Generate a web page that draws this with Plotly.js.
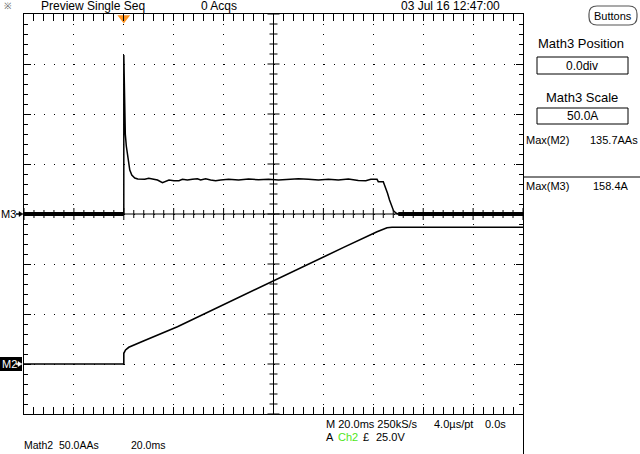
<!DOCTYPE html>
<html>
<head>
<meta charset="utf-8">
<script src="https://cdn.plot.ly/plotly-3.0.1.min.js"></script>
<style>html,body{margin:0;padding:0;background:#fff;}#chart{width:640px;height:454px;}</style>
</head>
<body>
<div id="chart"></div>
<script>
// ---- Data (time in ms, trigger at 0) ----
const m3Time = [-40, 0, 0, 0.2, 0.6, 1.0, 1.6, 2.4, 3.2, 4.4, 5.6, 7.2, 8.4, 10, 11.5, 13.5, 15.5, 16.8, 18.1, 20.1, 22.1, 23.5, 25.5, 27.5, 29.5, 30.8, 32.8, 34.8, 36.8, 38.8, 42, 46, 50, 54, 58, 62, 66, 70, 74, 78, 82, 86, 90, 94, 97, 99, 101.5, 102, 104, 104.8, 105.7, 106.5, 107.5, 108.1, 109.2, 110, 160];
const m3Amps = [0, 0, 159, 108, 80, 68, 56, 44, 39, 36, 35, 34.7, 34.7, 35.7, 34.7, 34, 31.3, 32.7, 34, 33.3, 33.3, 34.7, 34, 34.7, 35.3, 34, 35.3, 34, 33.3, 34, 34.7, 34, 35, 34.3, 34.7, 34, 34.7, 35.3, 34.7, 34, 34.7, 34, 35, 33.5, 33.3, 34.7, 34.7, 32.3, 32.3, 27.3, 20.7, 14, 7.3, 3.3, 0.7, 0, 0];
const m2Time = [-40, 0, 0, 0.7, 2, 4, 8.1, 21.5, 34.8, 48.1, 60, 74.8, 88.1, 101.5, 104, 105.5, 107.5, 160];
const m2Val  = [0, 0, 10.7, 14, 16.7, 19, 23.3, 37.3, 53.3, 68.9, 83.2, 100.6, 116.6, 132.3, 134.5, 136.3, 136.7, 136.7];
const triggerTime = [0];

const xRange = [-40, 160];   // 20 ms/div
const m3Range = [-200, 200]; // 50 A/div, position 0 div
const m2Range = [-50, 350];  // 50 AAs/div

const F = '"Liberation Sans", Arial, sans-serif';
const L = 24, T = 14, PW = 499, PH = 400;
const px = x => (x - L) / PW;
const py = y => (T + PH - y) / PH;

// zero-level segments of M3 (drawn heavier, as on the scope)
const zT = [], zA = [];
m3Amps.forEach((a, i) => {
  if (a === 0) { zT.push(m3Time[i]); zA.push(0); }
  else if (zT.length && zT[zT.length - 1] !== null) { zT.push(null); zA.push(null); }
});

const traces = [
  {x: m2Time, y: m2Val, yaxis: 'y2', mode: 'lines', line: {color: '#000', width: 1.6}, hoverinfo: 'skip'},
  {x: m3Time, y: m3Amps, mode: 'lines', line: {color: '#000', width: 1.5}, hoverinfo: 'skip'},
  {x: zT, y: zA, mode: 'lines', line: {color: '#000', width: 4}, hoverinfo: 'skip'},
  {x: triggerTime, y: [196], mode: 'markers', cliponaxis: false,
   marker: {symbol: 'triangle-down', size: 11, color: '#ff9420', line: {width: 0}}, hoverinfo: 'skip'}
];

// graticule centre cross and ticks
const shapes = [];
shapes.push({type: 'line', xref: 'x', yref: 'y', x0: 60, x1: 60, y0: -200, y1: 200, line: {color: '#000', width: 1}});
shapes.push({type: 'line', xref: 'x', yref: 'y', x0: -40, x1: 160, y0: 0, y1: 0, line: {color: '#000', width: 1}});
for (let t = -40; t <= 160; t += 4) {
  const major = (Math.abs((t + 40) % 20) < 1e-9);
  const h = major ? 6 : 4;
  shapes.push({type: 'line', xref: 'x', yref: 'y', x0: t, x1: t, y0: -h, y1: h, line: {color: '#000', width: 1}});
}
for (let a = -200; a <= 200; a += 10) {
  const major = (Math.abs((a + 200) % 50) < 1e-9);
  const h = (major ? 6 : 4) * 0.4;
  shapes.push({type: 'line', xref: 'x', yref: 'y', x0: 60 - h, x1: 60 + h, y0: a, y1: a, line: {color: '#000', width: 1}});
}
// right panel
function rect(x0, y0, x1, y1, o) {
  return Object.assign({type: 'rect', xref: 'paper', yref: 'paper', x0: px(x0), x1: px(x1), y0: py(y1), y1: py(y0), line: {color: '#000', width: 1}}, o || {});
}
function pline(x0, y0, x1, y1, o) {
  return Object.assign({type: 'line', xref: 'paper', yref: 'paper', x0: px(x0), x1: px(x1), y0: py(y0), y1: py(y1), line: {color: '#000', width: 1}}, o || {});
}
function rrPath(x0, y0, x1, y1, r) {
  const X = v => px(v).toFixed(5), Y = v => py(v).toFixed(5);
  return 'M' + X(x0 + r) + ',' + Y(y0) + ' L' + X(x1 - r) + ',' + Y(y0) +
    ' Q' + X(x1) + ',' + Y(y0) + ' ' + X(x1) + ',' + Y(y0 + r) +
    ' L' + X(x1) + ',' + Y(y1 - r) + ' Q' + X(x1) + ',' + Y(y1) + ' ' + X(x1 - r) + ',' + Y(y1) +
    ' L' + X(x0 + r) + ',' + Y(y1) + ' Q' + X(x0) + ',' + Y(y1) + ' ' + X(x0) + ',' + Y(y1 - r) +
    ' L' + X(x0) + ',' + Y(y0 + r) + ' Q' + X(x0) + ',' + Y(y0) + ' ' + X(x0 + r) + ',' + Y(y0) + ' Z';
}
function arrowPath(x0, x1, y, head) {
  const X = v => px(v).toFixed(5), Y = v => py(v).toFixed(5);
  return 'M' + X(x1) + ',' + Y(y) + ' L' + X(x1 - head) + ',' + Y(y - 2.5) + ' L' + X(x1 - head) + ',' + Y(y + 2.5) + ' Z';
}
shapes.push({type: 'path', xref: 'paper', yref: 'paper', path: rrPath(589, 6, 637, 25, 8), line: {color: '#555', width: 1.2}, fillcolor: '#fff'});
shapes.push(rect(537, 57, 628, 74));
shapes.push(rect(537, 108, 628, 124));
shapes.push(pline(523, 177, 640, 177));
shapes.push(pline(523.5, 414, 523.5, 454));
shapes.push(rect(0, 357, 22, 371, {fillcolor: '#000', line: {width: 0}}));
// channel position arrows
shapes.push(pline(16, 214, 20, 214, {line: {color: '#000', width: 1.5}}));
shapes.push({type: 'path', xref: 'paper', yref: 'paper', path: arrowPath(16, 23, 214, 4), fillcolor: '#000', line: {color: '#000', width: 0.5}});
shapes.push(pline(16, 364, 20, 364, {line: {color: '#fff', width: 1.5}}));
shapes.push({type: 'path', xref: 'paper', yref: 'paper', path: arrowPath(16, 22, 364, 4), fillcolor: '#fff', line: {color: '#fff', width: 0.5}});

function txt(text, x, y, o) {
  o = o || {};
  return {xref: 'paper', yref: 'paper', x: px(x), y: py(y), text: text, showarrow: false,
    xanchor: o.xanchor || 'left', yanchor: 'middle', borderpad: 0,
    font: {family: o.family || F, size: o.size || 12, color: o.color || '#000'}};
}
const annotations = [
  txt('※', 3, 6, {size: 9, color: '#555'}),
  txt('Preview Single Seq', 40, 6),
  txt('0 Acqs', 200, 6),
  txt('03 Jul 16 12:47:00', 400, 6),
  txt('Buttons', 613, 15.5, {xanchor: 'center', size: 11}),
  txt('Math3 Position', 581, 44, {xanchor: 'center', size: 13}),
  txt('0.0div', 582, 65.5, {xanchor: 'center', size: 12}),
  txt('Math3 Scale', 582, 98, {xanchor: 'center', size: 13}),
  txt('50.0A', 582, 116, {xanchor: 'center', size: 12}),
  txt('Max(M2)', 525, 140, {size: 11}),
  txt('135.7AAs', 639, 140, {size: 11, xanchor: 'right'}),
  txt('Max(M3)', 525, 186, {size: 11}),
  txt('158.4A', 592, 186, {size: 11}),
  txt('M3', 0, 214, {size: 11}),
  txt('M2', 1, 364, {size: 11, color: '#fff'}),
  txt('M 20.0ms 250kS/s', 325, 423.5, {size: 11}),
  txt('4.0µs/pt', 433, 423.5, {size: 11}),
  txt('0.0s', 484, 423.5, {size: 11}),
  txt('A', 325, 437, {size: 11}),
  txt('Ch2', 337, 437, {size: 11, color: '#4fe619'}),
  txt('£', 362, 437, {size: 11}),
  txt('25.0V', 375, 437, {size: 11}),
  txt('Math2', 23, 445, {size: 10.5}),
  txt('50.0AAs', 58, 445, {size: 10.5}),
  txt('20.0ms', 130, 445, {size: 10.5})
];

const axBase = {
  showgrid: true, gridcolor: '#000', griddash: '1px,9px', gridwidth: 1,
  zeroline: false, showline: true, linecolor: '#000', linewidth: 1, mirror: 'allticks',
  ticks: 'inside', ticklen: 7, tickcolor: '#000', tickwidth: 1, showticklabels: false, fixedrange: true
};
const layout = {
  width: 640, height: 454,
  margin: {l: 24, r: 117, t: 14, b: 40, pad: 0},
  paper_bgcolor: '#fff', plot_bgcolor: '#fff',
  showlegend: false,
  xaxis: Object.assign({}, axBase, {range: xRange, tick0: -40, dtick: 20,
    minor: {tick0: -40, dtick: 4, ticks: 'inside', ticklen: 4, tickcolor: '#000', showgrid: false}}),
  yaxis: Object.assign({}, axBase, {range: m3Range, tick0: -200, dtick: 50,
    minor: {tick0: -200, dtick: 10, ticks: 'inside', ticklen: 4, tickcolor: '#000', showgrid: false}}),
  yaxis2: {overlaying: 'y', range: m2Range, showgrid: false, zeroline: false, showline: false,
    ticks: '', showticklabels: false, fixedrange: true},
  shapes: shapes,
  annotations: annotations
};
Plotly.newPlot('chart', traces, layout, {displayModeBar: false, staticPlot: true});
</script>
</body>
</html>
